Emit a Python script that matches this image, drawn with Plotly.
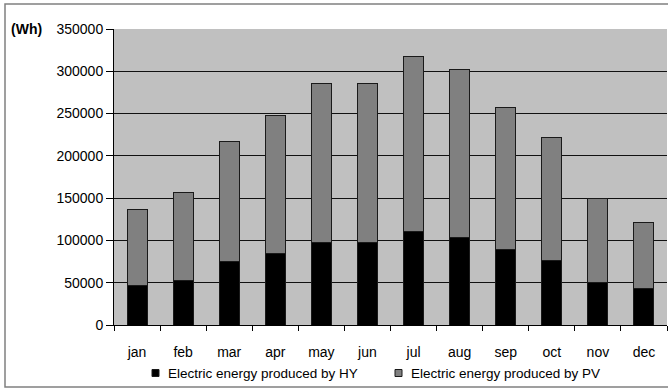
import plotly.graph_objects as go

months = ["jan", "feb", "mar", "apr", "may", "jun", "jul", "aug", "sep", "oct", "nov", "dec"]
hy_wh = [47000, 53000, 75000, 85000, 98000, 98000, 110000, 104000, 89000, 76000, 50000, 43000]
total_wh = [136000, 157000, 217000, 248000, 285000, 285000, 317000, 302000, 257000, 222000, 149000, 121000]
pv_wh = [t - h for t, h in zip(total_wh, hy_wh)]

y_ticks = [0, 50000, 100000, 150000, 200000, 250000, 300000, 350000]

series_names = ["Electric energy produced by HY", "Electric energy produced by PV"]
series_colors = ["black", "#808080"]

W, H = 668, 389
L, R, T, B = 114, 1, 29, 64
PW, PH = W - L - R, H - T - B


def px_x(x):
    return (x - L) / PW


def px_y(y):
    return (H - B - y) / PH


FAMILY = "Liberation Sans, Arial, sans-serif"
font = dict(family=FAMILY, size=14, color="black")
outline = dict(color="#1a1a1a", width=1)

fig = go.Figure()
for name, vals, col in zip(series_names, [hy_wh, pv_wh], series_colors):
    fig.add_trace(go.Bar(x=months, y=vals, name=name, showlegend=False,
                         marker=dict(color=col, line=outline)))

# frame around the whole chart
shapes = [
    dict(type="rect", xref="paper", yref="paper", x0=px_x(5), x1=px_x(671),
         y0=px_y(387), y1=px_y(4), line=dict(color="#808080", width=1.5),
         layer="below"),
]
annotations = [
    dict(text="<b>(Wh)</b>", xref="paper", yref="paper", x=px_x(9), y=px_y(29.5),
         xanchor="left", yanchor="middle", showarrow=False,
         font=dict(family=FAMILY, size=14, color="black")),
]

# legend row under the axis
legend_y = 373
for name, col, mx, tx in zip(series_names, series_colors, [155.5, 398.5], [165.5, 408.5]):
    shapes.append(dict(type="rect", xref="paper", yref="paper",
                       x0=px_x(mx - 3.5), x1=px_x(mx + 3.5),
                       y0=px_y(legend_y + 3.5), y1=px_y(legend_y - 3.5),
                       fillcolor=col, line=dict(color="#1a1a1a", width=1)))
    annotations.append(dict(text=name, xref="paper", yref="paper", x=px_x(tx),
                            y=px_y(legend_y), xanchor="left", yanchor="middle",
                            showarrow=False,
                            font=dict(family=FAMILY, size=13.5, color="black")))

fig.update_layout(
    width=W, height=H,
    margin=dict(l=L, r=R, t=T, b=B),
    barmode="stack", bargap=0.565,
    paper_bgcolor="white", plot_bgcolor="#c0c0c0",
    font=font,
    showlegend=False,
    xaxis=dict(showline=True, linecolor="black", linewidth=1, ticks="outside",
               tickson="boundaries", ticklen=5, tickcolor="black", showgrid=False,
               ticklabelstandoff=14, tickfont=font),
    yaxis=dict(range=[0, 350000], tickvals=y_ticks, ticktext=[str(v) for v in y_ticks],
               showline=True, linecolor="black", linewidth=1, ticks="outside",
               ticklen=7, tickcolor="black", showgrid=True, gridcolor="#111111",
               gridwidth=1, zeroline=False, tickfont=font),
    shapes=shapes,
    annotations=annotations,
)

fig.write_html("out.html")
